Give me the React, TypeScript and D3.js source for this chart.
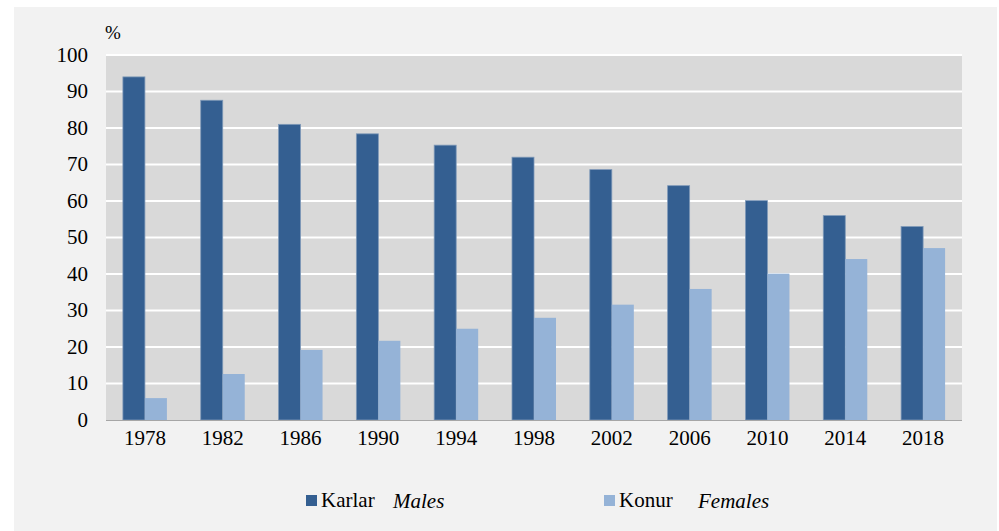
import React from "react";
import * as d3 from "d3";

const years = ["1978", "1982", "1986", "1990", "1994", "1998", "2002", "2006", "2010", "2014", "2018"];
const males = [94.0, 87.6, 81.0, 78.4, 75.3, 72.0, 68.6, 64.2, 60.1, 56.0, 53.0];
const females = [6.0, 12.6, 19.2, 21.7, 25.0, 28.0, 31.6, 35.9, 40.1, 44.1, 47.1];
const yTicks = [0, 10, 20, 30, 40, 50, 60, 70, 80, 90, 100];
const seriesNames = [
  { tr: "Karlar", en: "Males" },
  { tr: "Konur", en: "Females" },
];

const W = 999;
const H = 531;
const plot = { left: 106, right: 962, top: 55, bottom: 420 };
const maleColor = "#345f91";
const femaleColor = "#95b3d7";
const font = "Liberation Serif, DejaVu Serif, serif";
const ts: React.CSSProperties = { fontFamily: font };
const fs = 21;

export default function App() {
  const x = d3
    .scaleBand<string>()
    .domain(years)
    .range([plot.left, plot.right])
    .paddingInner(0)
    .paddingOuter(0);
  const y = d3.scaleLinear().domain([0, 100]).range([plot.bottom, plot.top]);
  const bw = 22;

  return (
    <svg
      width={W}
      height={H}
      style={{ position: "fixed", left: 0, top: 0, display: "block", fontFamily: font }}
    >
      <rect x={0} y={0} width={W} height={H} fill="#ffffff" />
      <rect x={14} y={7} width={W - 16} height={H - 7} fill="#f2f2f2" />
      <rect
        x={plot.left}
        y={plot.top}
        width={plot.right - plot.left}
        height={plot.bottom - plot.top}
        fill="#d9d9d9"
      />
      {yTicks.map((t) =>
        t === 0 ? null : (
          <line
            key={"g" + t}
            x1={plot.left}
            x2={plot.right}
            y1={y(t)}
            y2={y(t)}
            stroke="#ffffff"
            strokeWidth={2}
          />
        )
      )}
      {years.map((yr, i) => {
        const c = (x(yr) as number) + x.bandwidth() / 2;
        return (
          <g key={yr}>
            <rect
              x={c - bw}
              y={y(males[i])}
              width={bw}
              height={y(0) - y(males[i])}
              fill={maleColor}
              stroke="#7f99b8"
              strokeWidth={0.8}
            />
            <rect
              x={c}
              y={y(females[i])}
              width={bw}
              height={y(0) - y(females[i])}
              fill={femaleColor}
            />
          </g>
        );
      })}
      <line
        x1={plot.left}
        x2={plot.right}
        y1={plot.bottom + 0.5}
        y2={plot.bottom + 0.5}
        stroke="#a6a6a6"
        strokeWidth={1.2}
      />
      {yTicks.map((t) => (
        <text
          key={"t" + t}
          x={88}
          y={y(t)}
          dy="0.33em"
          textAnchor="end"
          fontSize={fs}
          fill="#000"
          style={ts}
        >
          {t}
        </text>
      ))}
      <text x={105} y={39} fontSize={19} fill="#000" style={ts}>
        %
      </text>
      {years.map((yr) => (
        <text
          key={"x" + yr}
          x={(x(yr) as number) + x.bandwidth() / 2}
          y={445}
          textAnchor="middle"
          fontSize={fs}
          fill="#000"
          style={ts}
        >
          {yr}
        </text>
      ))}
      <g>
        <rect x={306} y={495} width={11} height={11} fill={maleColor} />
        <text x={321} y={507} fontSize={fs} fill="#000" style={ts}>
          {seriesNames[0].tr}
        </text>
        <text x={393} y={508} fontSize={fs} fontStyle="italic" fill="#000" style={ts}>
          {seriesNames[0].en}
        </text>
        <rect x={604} y={495} width={11} height={11} fill={femaleColor} />
        <text x={619} y={507} fontSize={fs} fill="#000" style={ts}>
          {seriesNames[1].tr}
        </text>
        <text x={698} y={508} fontSize={fs} fontStyle="italic" fill="#000" style={ts}>
          {seriesNames[1].en}
        </text>
      </g>
    </svg>
  );
}
